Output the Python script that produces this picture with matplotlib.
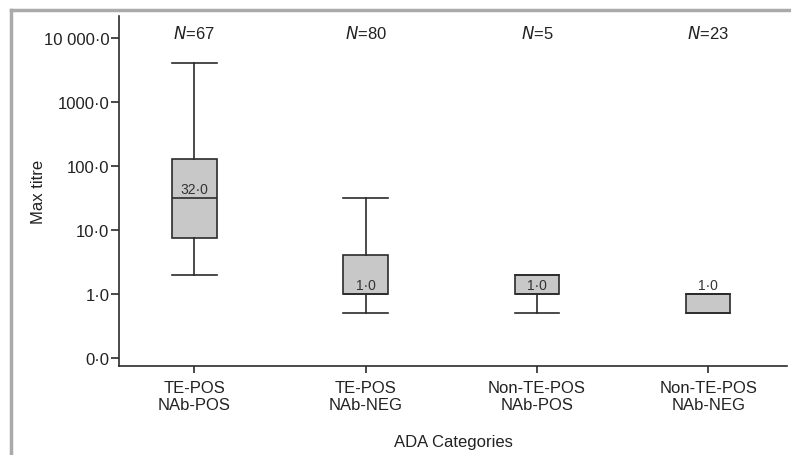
import numpy as np
import matplotlib.pyplot as plt
from matplotlib.lines import Line2D

plt.rcParams['font.family'] = ['Liberation Sans', 'DejaVu Sans']

# ADA categories and box statistics (max titre)
categories = ["TE-POS\nNAb-POS", "TE-POS\nNAb-NEG", "Non-TE-POS\nNAb-POS", "Non-TE-POS\nNAb-NEG"]
n_counts = [67, 80, 5, 23]
whisker_low = [2.0, 0.5, 0.5, 0.5]
q1 = [7.5, 1.0, 1.0, 0.5]
median = [32.0, 1.0, 1.0, 1.0]
q3 = [128.0, 4.0, 2.0, 1.0]
whisker_high = [4096.0, 32.0, 2.0, 1.0]
median_labels = ["32·0", "1·0", "1·0", "1·0"]

ytick_vals = [0.1, 1, 10, 100, 1000, 10000]
ytick_labels = ["0·0", "1·0", "10·0", "100·0", "1000·0", "10 000·0"]

fig = plt.figure(figsize=(7.91, 4.56), dpi=100)
ax = fig.add_axes([119/791, 1-367/456, (787-119)/791, (367-17)/456])

stats = []
for i in range(len(categories)):
    stats.append(dict(whislo=whisker_low[i], q1=q1[i], med=median[i],
                      q3=q3[i], whishi=whisker_high[i], fliers=[]))

pos = np.arange(1, len(categories) + 1)
ax.bxp(stats, positions=pos, widths=0.26, patch_artist=True, showfliers=False,
       boxprops=dict(facecolor="#c8c8c8", edgecolor="#2b2b2b", linewidth=1.2),
       medianprops=dict(color="#2b2b2b", linewidth=1.2),
       whiskerprops=dict(color="#2b2b2b", linewidth=1.2),
       capprops=dict(color="#2b2b2b", linewidth=1.2), capwidths=0.26)

ax.set_yscale("log")
ax.set_ylim(10**-1.125, 10**4.34)
ax.set_xlim(0.56, 4.46)
ax.set_yticks(ytick_vals)
ax.set_yticklabels(ytick_labels)
ax.minorticks_off()
ax.set_xticks(pos)
ax.set_xticklabels(categories)

for s in ["top", "right"]:
    ax.spines[s].set_visible(False)
for s in ["left", "bottom"]:
    ax.spines[s].set_color("#2b2b2b")
    ax.spines[s].set_linewidth(1.2)
ax.tick_params(axis="y", length=6, width=1.2, color="#2b2b2b", labelsize=12, pad=1, labelcolor="#222")
ax.tick_params(axis="x", length=5, width=1.2, color="#2b2b2b", labelsize=12, pad=5, labelcolor="#222")

# N counts above each box
for p, n in zip(pos, n_counts):
    ax.text(p, 10**4.08, r"$\it{N}$=" + str(n), ha="center", va="center",
            fontsize=12, color="#222")

# median labels
for p, m, lab in zip(pos, median, median_labels):
    ax.annotate(lab, (p, m), xytext=(0, 6.5), textcoords="offset points",
                ha="center", va="center", fontsize=10, color="#333")

ax.set_ylabel("Max titre", fontsize=12, color="#222")
ax.yaxis.set_label_coords((46-119)/668, 0.5)
ax.set_xlabel("ADA Categories", fontsize=12, color="#222")
ax.xaxis.set_label_coords(0.5, -(435-367)/350)

# grey frame around the figure
fig.add_artist(Line2D([11/791, 11/791], [0, 1-11/456], color="#aaaaaa", lw=2.5, transform=fig.transFigure))
fig.add_artist(Line2D([11/791, 1], [1-11/456, 1-11/456], color="#aaaaaa", lw=2.5, transform=fig.transFigure))

fig.savefig("out.png", dpi=100)
